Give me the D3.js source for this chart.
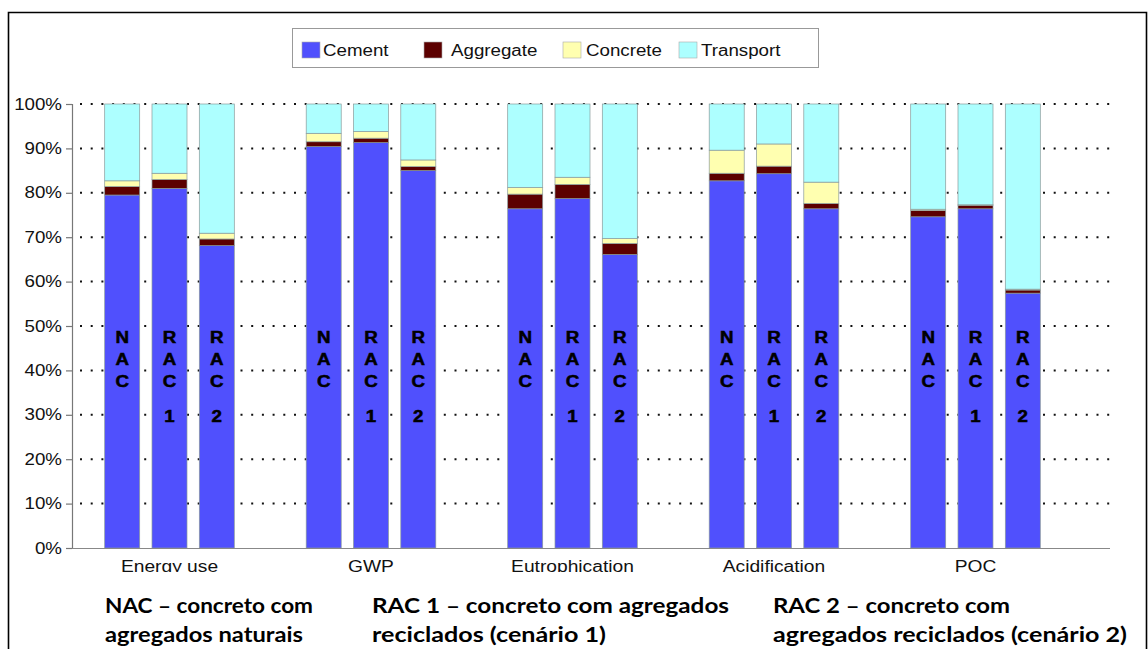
<!DOCTYPE html>
<html>
<head>
<meta charset="utf-8">
<script src="https://cdn.jsdelivr.net/npm/d3@7"></script>
<style>
  html, body { margin: 0; padding: 0; background: #fff; }
  svg { display: block; }
</style>
</head>
<body>
<svg id="chart" width="1148" height="649"></svg>
<script>
// Impact categories and concrete scenarios
const impacts = ["Energy use", "GWP", "Eutrophication", "Acidification", "POC"];
const scenarios = ["NAC", "RAC 1", "RAC 2"];
const components = ["Cement", "Aggregate", "Concrete", "Transport"];

// Share of each component (%) per impact, in scenario order NAC, RAC 1, RAC 2
const cement    = [[79.5, 81.0, 68.1], [90.4, 91.3, 85.0], [76.4, 78.7, 66.1], [82.7, 84.3, 76.4], [74.6, 76.4, 57.4]];
const aggregate = [[1.9, 2.0, 1.5],    [1.1, 1.0, 0.9],    [3.3, 3.2, 2.5],    [1.7, 1.7, 1.2],    [1.4, 0.8, 0.7]];
const concrete  = [[1.3, 1.4, 1.3],    [1.9, 1.5, 1.5],    [1.5, 1.6, 1.1],    [5.2, 5.0, 4.8],    [0.3, 0.1, 0.2]];
const transport = [[17.3, 15.6, 29.1], [6.6, 6.2, 12.6],   [18.8, 16.5, 30.3], [10.4, 9.0, 17.6],  [23.7, 22.7, 41.7]];

const yTicks = [0, 10, 20, 30, 40, 50, 60, 70, 80, 90, 100];

// Vertical in-bar labels (letters stacked top to bottom)
const barLetters = { "NAC": ["N", "A", "C"], "RAC 1": ["R", "A", "C", "1"], "RAC 2": ["R", "A", "C", "2"] };

const notes = [
  ["NAC \u2013 concreto com", "agregados naturais"],
  ["RAC 1 \u2013 concreto com agregados", "reciclados (cen\u00e1rio 1)"],
  ["RAC 2 \u2013 concreto com", "agregados reciclados (cen\u00e1rio 2)"]
];

const colors = {
  Cement: "#5050fd",
  Aggregate: "#5c0000",
  Concrete: "#ffffb0",
  Transport: "#adffff"
};

// Flat table for d3.stack
const rows = [];
impacts.forEach((imp, i) => {
  scenarios.forEach((sc, j) => {
    rows.push({
      impact: imp, scenario: sc,
      Cement: cement[i][j], Aggregate: aggregate[i][j],
      Concrete: concrete[i][j], Transport: transport[i][j]
    });
  });
});

const svg = d3.select("#chart");
const axisFont = "'Liberation Sans', Arial, sans-serif";
const SX = 1.17; // horizontal stretch applied to chart lettering

// Widen text horizontally while keeping its anchor
function stretch(sel, sx) {
  sel.each(function () {
    const len = this.getComputedTextLength();
    d3.select(this).attr("textLength", len * sx).attr("lengthAdjust", "spacingAndGlyphs");
  });
}

// Outer frame
svg.append("path")
  .attr("d", "M8.5,660 V12.5 H1146.5 V660")
  .attr("fill", "none").attr("stroke", "#000").attr("stroke-width", 1.6);

// Scales
const x0 = d3.scaleBand().domain(impacts).range([68.75, 1076.25]).padding(0);
const innerWidth = 129.6;
const x1 = d3.scaleBand().domain(scenarios).range([0, innerWidth]).paddingInner(0.26).paddingOuter(0);
const y = d3.scaleLinear().domain([0, 100]).range([548, 104]);
const xPos = d => x0(d.impact) + (x0.bandwidth() - innerWidth) / 2 + x1(d.scenario);

// Dotted gridlines
svg.append("g").selectAll("line")
  .data(yTicks.filter(t => t > 0))
  .join("line")
  .attr("x1", 80).attr("x2", 1114)
  .attr("y1", d => y(d)).attr("y2", d => y(d))
  .attr("stroke", "#111").attr("stroke-width", 2)
  .attr("stroke-dasharray", "2 8.7");

// Stacked bars
const stack = d3.stack().keys(components);
const series = stack(rows);
svg.append("g").selectAll("g")
  .data(series)
  .join("g")
  .attr("fill", s => colors[s.key])
  .selectAll("rect")
  .data(s => s)
  .join("rect")
  .attr("x", d => xPos(d.data))
  .attr("width", x1.bandwidth())
  .attr("y", d => y(d[1]))
  .attr("height", d => y(d[0]) - y(d[1]))
  .attr("stroke", "#8a9a9a").attr("stroke-width", 0.7);

// In-bar scenario labels
const letterY = [337, 359, 381, 416];
const labelG = svg.append("g")
  .attr("font-family", axisFont).attr("font-weight", "bold")
  .attr("font-size", 16).attr("fill", "#000").attr("text-anchor", "middle")
  .attr("stroke", "#000").attr("stroke-width", 0.5);
rows.forEach(r => {
  barLetters[r.scenario].forEach((ch, k) => {
    labelG.append("text")
      .attr("x", xPos(r) + x1.bandwidth() / 2)
      .attr("y", letterY[k])
      .attr("dy", "0.36em")
      .text(ch);
  });
});
stretch(labelG.selectAll("text"), SX);

// Y axis
const yAxis = d3.axisLeft(y).tickValues(yTicks).tickFormat(d => d + "%").tickSize(6).tickPadding(4);
const gy = svg.append("g").attr("transform", "translate(72,0)").call(yAxis);
gy.select(".domain").attr("stroke", "#777").attr("stroke-width", 1.2);
gy.selectAll(".tick line").attr("stroke", "#777").attr("stroke-width", 1.2);
gy.selectAll(".tick text")
  .attr("font-family", axisFont).attr("font-size", 16).attr("fill", "#111");
stretch(gy.selectAll(".tick text"), SX);

// X axis line
svg.append("line")
  .attr("x1", 72).attr("x2", 1110).attr("y1", 548.5).attr("y2", 548.5)
  .attr("stroke", "#888").attr("stroke-width", 1.2);

// Category labels (lower edge cropped)
svg.append("clipPath").attr("id", "catClip")
  .append("rect").attr("x", 0).attr("y", 550).attr("width", 1148).attr("height", 22);
const cats = svg.append("g").attr("clip-path", "url(#catClip)")
  .selectAll("text")
  .data(impacts)
  .join("text")
  .attr("x", d => x0(d) + x0.bandwidth() / 2)
  .attr("y", 572)
  .attr("text-anchor", "middle")
  .attr("font-family", axisFont).attr("font-size", 16).attr("fill", "#111")
  .text(d => d);
stretch(cats, 1.2);

// Legend
const legend = svg.append("g");
legend.append("rect")
  .attr("x", 292.5).attr("y", 28.5).attr("width", 526).attr("height", 39)
  .attr("fill", "#fff").attr("stroke", "#999").attr("stroke-width", 1);
const legendX = [302, 424, 563, 679];
const legendTextX = [323, 451, 586, 701];
components.forEach((c, i) => {
  legend.append("rect")
    .attr("x", legendX[i]).attr("y", 42).attr("width", 18).attr("height", 16)
    .attr("fill", colors[c]).attr("stroke", "#aaa").attr("stroke-width", 0.6);
  legend.append("text")
    .attr("x", legendTextX[i]).attr("y", 50).attr("dy", "0.35em")
    .attr("font-family", axisFont).attr("font-size", 16).attr("fill", "#111")
    .text(c);
});
stretch(legend.selectAll("text"), SX);

// Scenario notes below the chart
const noteX = [105, 372, 773];
const noteWidths = [[208, 198], [357, 234], [237, 354]];
const noteG = svg.append("g")
  .attr("font-family", "Lato, 'Open Sans', sans-serif").attr("font-weight", "bold")
  .attr("font-size", 21).attr("fill", "#000");
notes.forEach((lines, i) => {
  lines.forEach((t, k) => {
    noteG.append("text")
      .attr("x", noteX[i]).attr("y", 613 + k * 29)
      .attr("textLength", noteWidths[i][k]).attr("lengthAdjust", "spacingAndGlyphs")
      .text(t);
  });
});
</script>
</body>
</html>
